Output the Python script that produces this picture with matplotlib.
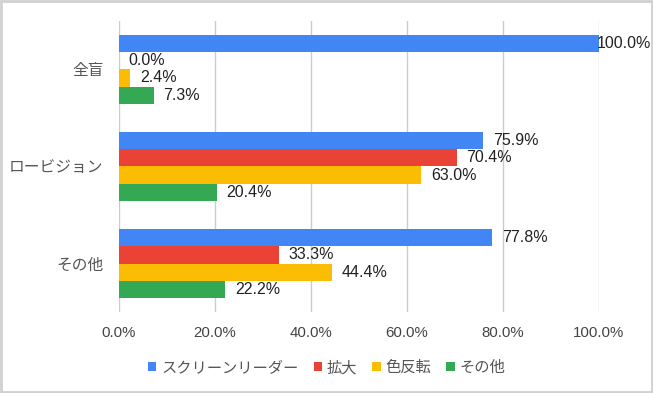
import matplotlib
matplotlib.use('Agg')
import numpy as np
import matplotlib.pyplot as plt
from matplotlib.patches import Rectangle

plt.rcParams['font.family'] = ['Liberation Sans', 'Noto Sans CJK JP', 'DejaVu Sans']

groups = ['全盲', 'ロービジョン', 'その他']
series = ['スクリーンリーダー', '拡大', '色反転', 'その他']
screen_reader = [100.0, 75.9, 77.8]
magnify = [0.0, 70.4, 33.3]
invert = [2.4, 63.0, 44.4]
other = [7.3, 20.4, 22.2]
colors = ['#4285F4', '#EA4335', '#FBBC04', '#34A853']

values = [screen_reader, magnify, invert, other]

fig = plt.figure(figsize=(6.53, 3.93), dpi=100)
ax = fig.add_axes([0.182, 0.206, 0.735, 0.741])

y = np.arange(len(groups))
h = 0.177
for i, (vals, name, c) in enumerate(zip(values, series, colors)):
    pos = y - 1.5 * h + i * h
    ax.barh(pos, vals, height=h, color=c, label=name, zorder=3)
    for v, p in zip(vals, pos):
        # labels that would run past the chart get pulled back onto the bar end
        off = -1.5 if v >= 99 else 7
        ax.annotate('%.1f%%' % v, (v, p), xytext=(off, 0), textcoords='offset points',
                    va='center', ha='left', fontsize=11.5, color='#222222', zorder=4,
                    annotation_clip=False)

ax.set_xlim(0, 100)
ax.set_ylim(2.5, -0.5)
ax.set_xticks(np.arange(0, 101, 20))
ax.set_xticklabels(['%.1f%%' % t for t in np.arange(0, 101, 20)])
ax.set_yticks(y)
ax.set_yticklabels(groups)
ax.tick_params(axis='x', length=0, labelsize=10.8, colors='#444444', pad=10)
ax.tick_params(axis='y', length=0, labelsize=11.3, colors='#555555', pad=11)
ax.grid(axis='x', color='#cccccc', linewidth=1, zorder=0)
for s in ax.spines.values():
    s.set_visible(False)

leg = fig.legend(loc='center', bbox_to_anchor=(0.5, 0.064), ncol=4, frameon=False,
                 fontsize=11, handlelength=0.55, handleheight=0.55, handletextpad=0.3,
                 columnspacing=1.0)
for t in leg.get_texts():
    t.set_color('#555555')

fig.patches.append(Rectangle((0.002, 0.003), 0.996, 0.994, transform=fig.transFigure,
                             fill=False, edgecolor='#d0d0d0', linewidth=2))

fig.savefig('out.png', dpi=100)
